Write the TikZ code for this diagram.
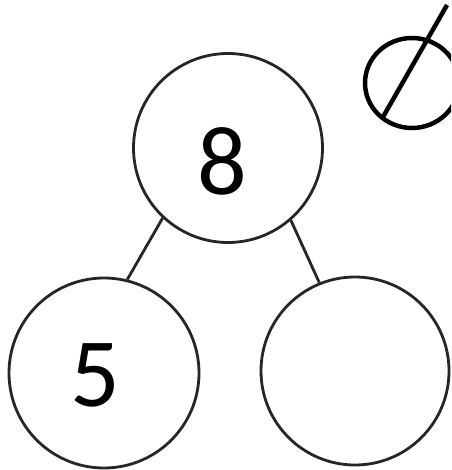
\documentclass[tikz,border=0pt]{standalone}
\usepackage{fontspec}
\setmainfont{Carlito}
\begin{document}
\begin{tikzpicture}[x=1pt,y=-1pt,
  ring/.style={circle,draw=black!85,line width=2.8pt,minimum size=#1,inner sep=0pt},
  digit/.style={inner sep=0pt,font=\fontsize{98}{98}\selectfont},
  link/.style={draw=black!85,line width=2.8pt}]
\useasboundingbox (0,0) rectangle (451,470);
\clip (0,0) rectangle (451,470);
\node[ring=189pt] (top) at (228,148) {};
\node[ring=190pt] (bl) at (104,373) {};
\node[ring=188pt] (br) at (355,371) {};
\node[digit] (eight) at (222,161) {8};
\node[digit] (five) at (95,375) {5};
\draw[link] (top.227) -- (bl.76);
\draw[link] (top.311) -- (br.112);
% empty-set like symbol, cut by the right edge
\draw[line width=4.5pt] (412,83) ellipse [x radius=47, y radius=45];
\coordinate (sa) at (447,5);
\coordinate (sb) at (383,117);
\draw[line width=4.5pt] (sa) -- (sb);
\end{tikzpicture}
\end{document}
